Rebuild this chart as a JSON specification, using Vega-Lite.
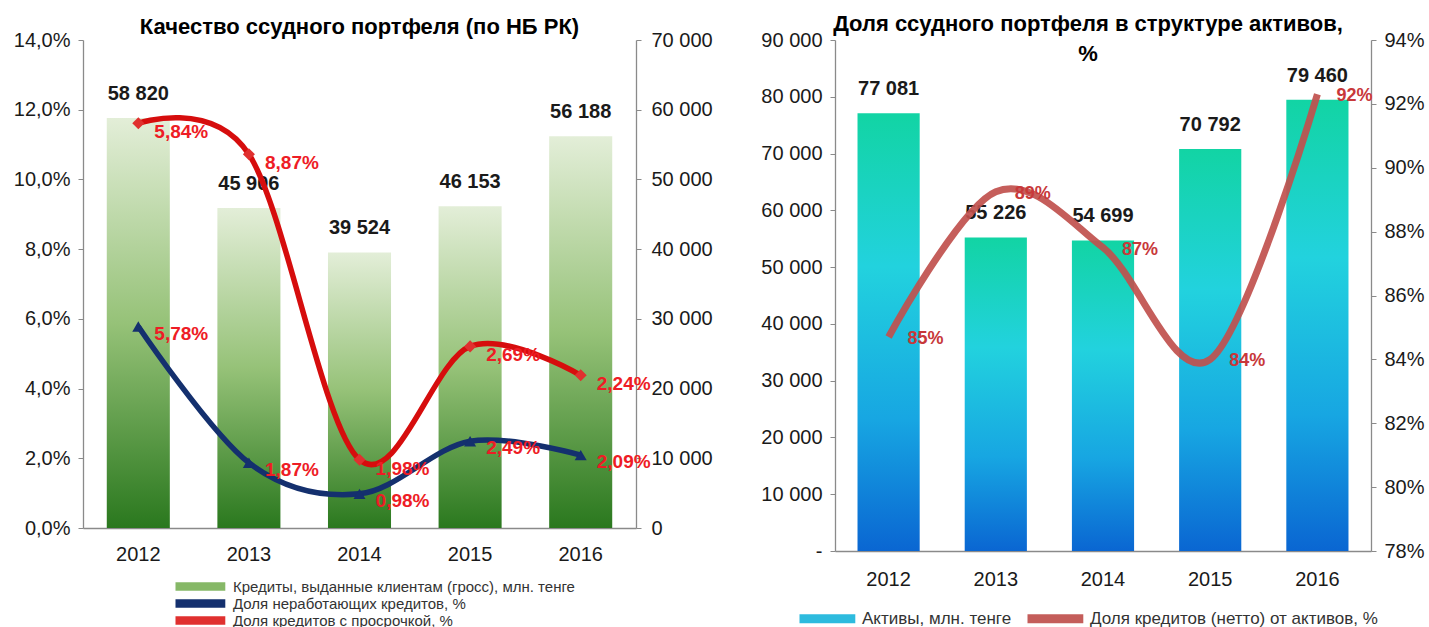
{
  "$schema": "https://vega.github.io/schema/vega-lite/v6.json",
  "autosize": {"type": "pad"},
  "padding": {"left": 13, "top": 13, "right": 0, "bottom": 0},
  "bounds": "flush",
  "spacing": 199,
  "background": "white",
  "resolve": {"scale": {"color": "independent"}, "legend": {"color": "independent"}},
  "config": {
    "view": {"stroke": null},
    "font": "Liberation Sans",
    "axis": {
      "grid": false,
      "title": null,
      "domainColor": "#8a8a8a",
      "domainWidth": 1.3,
      "tickColor": "#8a8a8a",
      "tickSize": 5,
      "labelColor": "#1a1a1a",
      "labelFontSize": 20,
      "labelFont": "Liberation Sans"
    },
    "title": {"fontSize": 22, "fontWeight": "bold", "color": "#000000", "font": "Liberation Sans"}
  },
  "datasets": {
    "lb": [
      {"year": "2012", "loans": 58820, "label": "58 820"},
      {"year": "2013", "loans": 45906, "label": "45 906"},
      {"year": "2014", "loans": 39524, "label": "39 524"},
      {"year": "2015", "loans": 46153, "label": "46 153"},
      {"year": "2016", "loans": 56188, "label": "56 188"}
    ],
    "ll": [
      {"year": "2012", "series": "Доля неработающих кредитов, %", "value": 0.0578, "label": "5,78%"},
      {"year": "2013", "series": "Доля неработающих кредитов, %", "value": 0.0187, "label": "1,87%"},
      {"year": "2014", "series": "Доля неработающих кредитов, %", "value": 0.0098, "label": "0,98%"},
      {"year": "2015", "series": "Доля неработающих кредитов, %", "value": 0.0249, "label": "2,49%"},
      {"year": "2016", "series": "Доля неработающих кредитов, %", "value": 0.0209, "label": "2,09%"},
      {"year": "2012", "series": "Доля кредитов с просрочкой, %", "value": 0.1161, "label": "5,84%"},
      {"year": "2013", "series": "Доля кредитов с просрочкой, %", "value": 0.1072, "label": "8,87%"},
      {"year": "2014", "series": "Доля кредитов с просрочкой, %", "value": 0.0196, "label": "1,98%"},
      {"year": "2015", "series": "Доля кредитов с просрочкой, %", "value": 0.0521, "label": "2,69%"},
      {"year": "2016", "series": "Доля кредитов с просрочкой, %", "value": 0.0438, "label": "2,24%"}
    ],
    "rb": [
      {"year": "2012", "assets": 77081, "label": "77 081"},
      {"year": "2013", "assets": 55226, "label": "55 226"},
      {"year": "2014", "assets": 54699, "label": "54 699"},
      {"year": "2015", "assets": 70792, "label": "70 792"},
      {"year": "2016", "assets": 79460, "label": "79 460"}
    ],
    "rl": [
      {"year": "2012", "indicator": "Доля кредитов (нетто) от активов, %", "share": 0.847, "label": "85%"},
      {"year": "2013", "indicator": "Доля кредитов (нетто) от активов, %", "share": 0.8925, "label": "89%"},
      {"year": "2014", "indicator": "Доля кредитов (нетто) от активов, %", "share": 0.875, "label": "87%"},
      {"year": "2015", "indicator": "Доля кредитов (нетто) от активов, %", "share": 0.84, "label": "84%"},
      {"year": "2016", "indicator": "Доля кредитов (нетто) от активов, %", "share": 0.923, "label": "92%"}
    ]
  },
  "hconcat": [
    {
      "width": 553,
      "height": 488,
      "title": {"text": "Качество ссудного портфеля (по НБ РК)", "offset": -9, "frame": "group"},
      "encoding": {
        "x": {
          "field": "year", "type": "ordinal",
          "scale": {"paddingInner": 0.43, "paddingOuter": 0.215},
          "axis": {"labelAngle": 0, "ticks": false, "labelPadding": 16}
        }
      },
      "layer": [
        {
          "data": {"name": "lb"},
          "encoding": {
            "y": {
              "field": "loans", "type": "quantitative",
              "scale": {"domain": [0, 70000]},
              "axis": {"orient": "right", "values": [0, 10000, 20000, 30000, 40000, 50000, 60000, 70000], "labelPadding": 10, "labelExpr": "replace(format(datum.value, ','), ',', ' ')"}
            }
          },
          "layer": [
            {
              "mark": {
                "type": "bar",
                "color": {
                  "gradient": "linear", "x1": 0, "y1": 0, "x2": 0, "y2": 1,
                  "stops": [
                    {"offset": 0, "color": "#e3eed8"},
                    {"offset": 0.5, "color": "#96c278"},
                    {"offset": 1, "color": "#2a781e"}
                  ]
                }
              }
            },
            {
              "mark": {"type": "text", "dy": -24, "fontSize": 20, "fontWeight": "bold", "color": "#1a1a1a"},
              "encoding": {"text": {"field": "label"}}
            }
          ]
        },
        {
          "data": {"name": "ll"},
          "encoding": {
            "y": {
              "field": "value", "type": "quantitative",
              "scale": {"domain": [0, 0.14]},
              "axis": {"orient": "left", "values": [0, 0.02, 0.04, 0.06, 0.08, 0.1, 0.12, 0.14], "labelPadding": 8, "labelExpr": "replace(format(datum.value, '.1%'), '.', ',')"}
            }
          },
          "layer": [
            {
              "mark": {"type": "line", "interpolate": "cardinal", "strokeWidth": 5.5},
              "encoding": {
                "stroke": {
                  "field": "series", "type": "nominal",
                  "scale": {
                    "domain": ["Доля неработающих кредитов, %", "Доля кредитов с просрочкой, %"],
                    "range": ["#14306e", "#d60d0d"]
                  },
                  "legend": null
                }
              }
            },
            {
              "mark": {"type": "point", "filled": true, "size": 145, "opacity": 1, "strokeWidth": 0},
              "encoding": {
                "color": {
                  "field": "series", "type": "nominal",
                  "scale": {
                    "domain": ["Кредиты, выданные клиентам (гросс), млн. тенге", "Доля неработающих кредитов, %", "Доля кредитов с просрочкой, %"],
                    "range": ["#86b867", "#14306e", "#e0302f"]
                  },
                  "legend": {
                    "orient": "none", "legendX": 130, "legendY": 539,
                    "direction": "vertical", "title": null,
                    "symbolType": "M-7.5,-0.7H0.8V0.7H-7.5Z", "symbolSize": 144, "symbolStrokeWidth": 0,
                    "symbolOpacity": 1,
                    "labelFontSize": 15, "labelColor": "#333333", "labelFont": "Liberation Sans",
                    "labelLimit": 600, "labelOffset": 5, "rowPadding": 1
                  }
                },
                "shape": {
                  "field": "series", "type": "nominal",
                  "scale": {
                    "domain": ["Доля неработающих кредитов, %", "Доля кредитов с просрочкой, %"],
                    "range": ["triangle-up", "diamond"]
                  },
                  "legend": null
                }
              }
            },
            {
              "transform": [{"filter": "datum.series === 'Доля неработающих кредитов, %'"}],
              "mark": {"type": "text", "dx": 43, "dy": 7, "fontSize": 19, "fontWeight": "bold", "color": "#ee1c25"},
              "encoding": {"text": {"field": "label"}}
            },
            {
              "transform": [{"filter": "datum.series === 'Доля кредитов с просрочкой, %'"}],
              "mark": {"type": "text", "dx": 43, "dy": 9, "fontSize": 19, "fontWeight": "bold", "color": "#ee1c25"},
              "encoding": {"text": {"field": "label"}}
            }
          ]
        }
      ],
      "resolve": {"scale": {"y": "independent"}}
    },
    {
      "width": 536,
      "height": 511,
      "title": {"text": ["Доля ссудного портфеля в структуре активов,", "%"], "offset": -36, "lineHeight": 30, "dx": -15, "frame": "group"},
      "encoding": {
        "x": {
          "field": "year", "type": "ordinal",
          "scale": {"paddingInner": 0.42, "paddingOuter": 0.21},
          "axis": {"labelAngle": 0, "ticks": false, "labelPadding": 18}
        }
      },
      "layer": [
        {
          "data": {"name": "rb"},
          "encoding": {
            "y": {
              "field": "assets", "type": "quantitative",
              "scale": {"domain": [0, 90000]},
              "axis": {"orient": "left", "values": [0, 10000, 20000, 30000, 40000, 50000, 60000, 70000, 80000, 90000], "labelPadding": 8, "labelExpr": "datum.value == 0 ? '-' : replace(format(datum.value, ','), ',', ' ')"}
            }
          },
          "layer": [
            {
              "mark": {
                "type": "bar",
                "color": {
                  "gradient": "linear", "x1": 0, "y1": 0, "x2": 0, "y2": 1,
                  "stops": [
                    {"offset": 0, "color": "#12d4a4"},
                    {"offset": 0.35, "color": "#22d2de"},
                    {"offset": 0.7, "color": "#17a6e2"},
                    {"offset": 1, "color": "#0a66d2"}
                  ]
                }
              }
            },
            {
              "mark": {"type": "text", "dy": -24, "fontSize": 20, "fontWeight": "bold", "color": "#1a1a1a"},
              "encoding": {"text": {"field": "label"}}
            }
          ]
        },
        {
          "data": {"name": "rl"},
          "encoding": {
            "y": {
              "field": "share", "type": "quantitative",
              "scale": {"domain": [0.78, 0.94]},
              "axis": {"orient": "right", "values": [0.78, 0.8, 0.82, 0.84, 0.86, 0.88, 0.9, 0.92, 0.94], "labelPadding": 8, "format": ".0%"}
            }
          },
          "layer": [
            {
              "mark": {"type": "line", "interpolate": "cardinal", "strokeWidth": 7, "opacity": 0.92},
              "encoding": {
                "color": {
                  "field": "indicator", "type": "nominal",
                  "scale": {
                    "domain": ["Активы, млн. тенге", "Доля кредитов (нетто) от активов, %"],
                    "range": ["#1cb6dc", "#c0504d"]
                  },
                  "legend": {
                    "orient": "none", "legendX": 5, "legendY": 568,
                    "direction": "horizontal", "title": null,
                    "symbolType": "M-8.5,0H0.8", "symbolSize": 144, "symbolStrokeWidth": 9,
                    "labelFontSize": 17, "labelColor": "#333333", "labelFont": "Liberation Sans",
                    "labelLimit": 600, "labelOffset": 1, "columnPadding": -3
                  }
                }
              }
            },
            {
              "mark": {"type": "text", "dx": 37, "dy": 2, "fontSize": 18, "fontWeight": "bold", "color": "#c8383a"},
              "encoding": {"text": {"field": "label"}}
            }
          ]
        }
      ],
      "resolve": {"scale": {"y": "independent"}}
    }
  ]
}
